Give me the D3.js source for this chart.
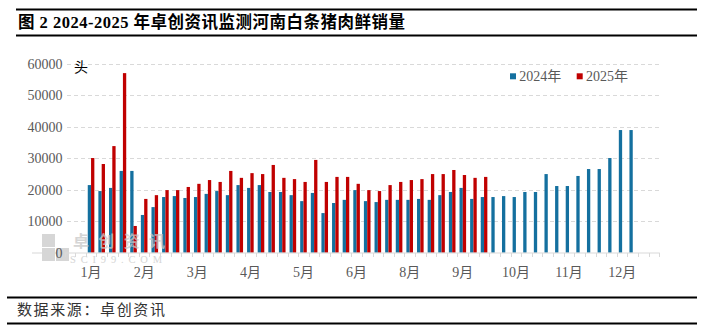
<!DOCTYPE html>
<html><head><meta charset="utf-8">
<script src="https://cdn.jsdelivr.net/npm/d3@7"></script>
<style>body{margin:0;background:#fff}svg{display:block}</style>
</head><body><svg id="c" width="704" height="332"></svg>
<script>
// ---- data ----
const weeks = Array.from({length: 52}, (_, i) => "W" + (i + 1));
const series2024 = [21500,19600,20600,26000,26000,12000,14500,17700,18000,17400,17700,18700,19600,18300,21500,20600,21500,19300,19300,18300,16400,19000,12600,15800,16800,19900,16400,16100,16800,16800,16800,17100,16800,18300,19300,20600,17100,17700,17700,18000,17700,19300,19300,25000,21200,21200,24400,26600,26600,30100,39000,39000];
const series2025 = [30100,28200,33900,57100,8500,17100,18300,19900,19900,20900,21900,23100,22500,26000,23800,25300,25000,27900,23800,23400,22500,29500,22500,24100,24100,21900,19900,19600,21500,22500,23100,23400,25000,25000,26300,24700,23800,24100];
const tickWeeks = ["W1","W6","W11","W16","W21","W26","W31","W36","W41","W46","W51"];
const tickLabels = ["1月","2月","3月","4月","5月","6月","8月","9月","10月","11月","12月"];
const yTicks = [0,10000,20000,30000,40000,50000,60000];
const seriesNames = ["2024年","2025年"];
const colors = ["#14709F","#C00000"];

const svg = d3.select("#c");
const FONT = "'Liberation Serif','Noto Sans CJK SC',serif";
const domain = ["p0","p1", ...weeks, "p2","p3"];
const x = d3.scaleBand().domain(domain).range([64.5, 659.3]).padding(0);
const y = d3.scaleLinear().domain([0, 60000]).range([252.7, 64]);
const bw = x.bandwidth();
const barW = 3.3;

// title + rules
svg.append("line").attr("x1",16).attr("x2",697).attr("y1",9.5).attr("y2",9.5).attr("stroke","#000").attr("stroke-width",2);
svg.append("line").attr("x1",16).attr("x2",697).attr("y1",35.5).attr("y2",35.5).attr("stroke","#000").attr("stroke-width",2);
svg.append("text").attr("x",18).attr("y",28).attr("font-family",FONT).attr("font-weight","bold").attr("font-size",16.5).attr("fill","#000")
  .attr("textLength",387).attr("lengthAdjust","spacing")
  .text("图 2 2024-2025 年卓创资讯监测河南白条猪肉鲜销量");

// watermark logo
const wm = svg.append("g").attr("opacity",0.8);
wm.append("line").attr("x1",32).attr("x2",64.5).attr("y1",253).attr("y2",253).attr("stroke","#cfcfcf");
wm.append("rect").attr("x",42).attr("y",234).attr("width",13).attr("height",13).attr("fill","#cccccc");
wm.append("rect").attr("x",42).attr("y",248).attr("width",13).attr("height",13).attr("fill","#cccccc");
wm.append("rect").attr("x",56).attr("y",248).attr("width",13).attr("height",13).attr("fill","#cccccc");

// gridlines
svg.append("g").selectAll("line").data(yTicks.filter(d=>d>0)).join("line")
  .attr("x1",67).attr("x2",660).attr("y1",d=>Math.round(y(d))+0.5).attr("y2",d=>Math.round(y(d))+0.5)
  .attr("stroke","#d9d9d9").attr("stroke-width",1).attr("stroke-dasharray","4,3");

// y labels
svg.append("g").selectAll("text").data(yTicks).join("text")
  .attr("x",62.5).attr("y",d=>y(d)).attr("dy","0.35em").attr("text-anchor","end")
  .attr("font-family",FONT).attr("font-size",14).attr("fill","#595959").text(d=>d);
svg.append("text").attr("x",81).attr("y",67).attr("dy","0.35em").attr("text-anchor","middle")
  .attr("font-family",FONT).attr("font-size",14).attr("fill","#000").text("头");

// bars
const g = svg.append("g");
g.selectAll("rect.b24").data(series2024).join("rect").attr("class","b24")
  .attr("x",(d,i)=>x(weeks[i]) + bw/2 - barW).attr("width",barW)
  .attr("y",d=>y(d)).attr("height",d=>y(0)-y(d)).attr("fill",colors[0]);
g.selectAll("rect.b25").data(series2025).join("rect").attr("class","b25")
  .attr("x",(d,i)=>x(weeks[i]) + bw/2).attr("width",barW)
  .attr("y",d=>y(d)).attr("height",d=>y(0)-y(d)).attr("fill",colors[1]);

// watermark text over bars
const wm2 = svg.append("g").attr("opacity",0.75);
wm2.append("text").attr("x",73).attr("y",247).attr("font-family","'Noto Sans CJK SC',sans-serif").attr("font-weight","bold")
  .attr("font-size",16).attr("fill","#c8c8c8").attr("textLength",92).text("卓创资讯");
wm2.append("text").attr("x",70).attr("y",263).attr("font-family","'Liberation Serif',serif")
  .attr("font-size",10.5).attr("fill","#c8c8c8").attr("textLength",92).text("SCI99.COM");

// x axis
svg.append("line").attr("x1",64.5).attr("x2",659.8).attr("y1",253).attr("y2",253).attr("stroke","#d9d9d9").attr("stroke-width",1.2);
svg.append("g").selectAll("line").data(d3.range(domain.length+1)).join("line")
  .attr("x1",i=>Math.round(64.5+i*bw)+0.5).attr("x2",i=>Math.round(64.5+i*bw)+0.5)
  .attr("y1",253).attr("y2",257).attr("stroke","#d9d9d9");
svg.append("g").selectAll("text").data(tickWeeks).join("text")
  .attr("x",d=>x(d)+bw/2).attr("y",272).attr("dy","0.35em").attr("text-anchor","middle")
  .attr("font-family",FONT).attr("font-size",14).attr("fill","#595959").text((d,i)=>tickLabels[i]);

// legend
const lg = svg.append("g");
const lx = [510, 576.7];
seriesNames.forEach((n,i)=>{
  lg.append("rect").attr("x",lx[i]).attr("y",73.3).attr("width",6).attr("height",6).attr("fill",colors[i]);
  lg.append("text").attr("x",lx[i]+9.3).attr("y",76.5).attr("dy","0.35em").attr("font-family",FONT)
    .attr("font-size",14).attr("fill","#595959").text(n);
});

// footer
svg.append("line").attr("x1",7).attr("x2",697).attr("y1",297.5).attr("y2",297.5).attr("stroke","#000").attr("stroke-width",2);
svg.append("line").attr("x1",7).attr("x2",697).attr("y1",323.5).attr("y2",323.5).attr("stroke","#000").attr("stroke-width",2);
svg.append("text").attr("x",17).attr("y",310).attr("dy","0.35em").attr("font-family","'Noto Sans CJK SC',sans-serif")
  .attr("font-size",15).attr("fill","#333").attr("textLength",148).text("数据来源：卓创资讯");
</script></body></html>
